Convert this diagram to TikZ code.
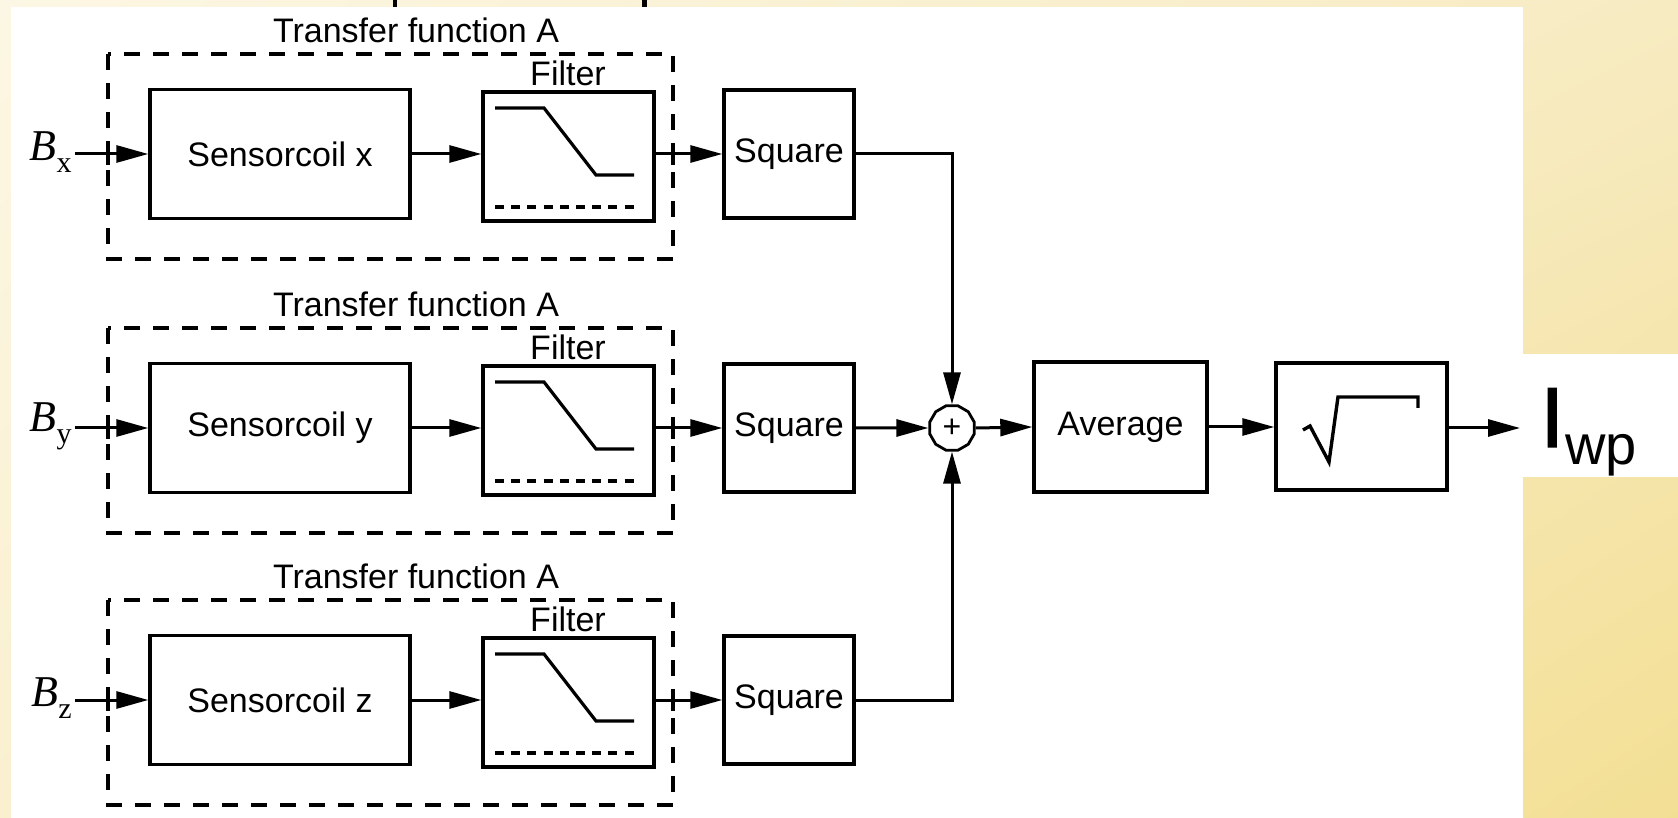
\documentclass[tikz,border=0pt]{standalone}
\usepackage{fontspec}
\setmainfont{Liberation Sans}
\newfontfamily\serifB{Liberation Serif}
\newfontfamily\heavyI[FakeBold=1.5]{Liberation Sans}
\usetikzlibrary{arrows.meta,shapes.geometric,shadings}
\definecolor{creamA}{HTML}{FCF7E4}
\definecolor{creamB}{HTML}{F7EBC2}
\definecolor{creamC}{HTML}{FAF0D0}
\definecolor{yelD}{HTML}{F3DF94}
\tikzset{
  x=0.5pt, y=-0.5pt,
  blk/.style={draw, line width=1.7pt, inner sep=0pt, font=\fontsize{17}{20}\selectfont},
  lbl/.style={inner sep=0pt, font=\fontsize{17}{20}\selectfont},
  arr/.style={line width=1.5pt, -{Triangle[length=16pt,width=8.5pt]}},
  tfbox/.style={line width=1.8pt, dash pattern=on 8pt off 6.5pt},
  bsym/.style={inner sep=0pt, font=\serifB\fontsize{22}{24}\selectfont}
}
\begin{document}
\begin{tikzpicture}
\useasboundingbox (0,0) rectangle (1678,818);
% background
\shade[upper left=creamA, upper right=creamB, lower left=creamC, lower right=yelD] (0,0) rectangle (1678,818);
\fill[white] (11,7) rectangle (1523,818);
\fill[white] (1523,354) rectangle (1678,477);
% remnants at top
\draw[line width=2pt] (395,0) -- (395,7);
\draw[line width=2.5pt] (644.5,0) -- (644.5,7);

\foreach \r/\yy/\s in {1/154/x, 2/428/y, 3/700/z}{
  % dashed transfer function box
  \draw[tfbox] (108,\yy-100) rectangle (673,\yy+105);
  \draw[line width=1.8pt] (108,\yy-11) -- (108,\yy+11);
  \draw[line width=1.8pt] (673,\yy-11) -- (673,\yy+11);
  \node[lbl] (tf\r) at (416,\yy-124) {Transfer function A};
  % input label
  \node[bsym, anchor=east] (b\r) at (72,\yy-2) {\itshape B\raisebox{-6pt}{\upshape\fontsize{15}{15}\selectfont \s}};
  % blocks
  \node[blk, minimum width=130pt, minimum height=64.5pt] (sc\r) at (280,\yy) {Sensorcoil \s};
  \node[blk, minimum width=85.5pt, minimum height=64.5pt] (fl\r) at (568.5,\yy+2.5) {};
  \node[lbl] (fll\r) at (568,\yy-81) {Filter};
  \node[blk, minimum width=65pt, minimum height=64pt] (sq\r) at (789,\yy) {Square};
  % filter curve
  \draw[line width=1.6pt] ([shift={(-73.5,-48.5)}]fl\r.center) -- ([shift={(-24.5,-48.5)}]fl\r.center)
      -- ([shift={(27.5,18.5)}]fl\r.center) -- ([shift={(65.5,18.5)}]fl\r.center);
  \draw[line width=1.7pt, dash pattern=on 4.5pt off 3.6pt] ([shift={(-73.5,50.5)}]fl\r.center) -- ([shift={(65.5,50.5)}]fl\r.center);
  % connectors
  \path (b\r.east) ++(3,2) coordinate (bs\r);
  \draw[arr] (bs\r) -- (sc\r.west);
  \draw[arr] (sc\r.east) -- (sc\r.east -| fl\r.west);
  \draw[arr] (sq\r.west -| fl\r.east) -- (sq\r.west);
}
\node[draw, regular polygon, regular polygon sides=12, minimum size=23pt, inner sep=0pt, line width=1.4pt,
      font=\fontsize{16}{16}\selectfont] (sum) at (952,428) {+};
\node[blk, minimum width=86.5pt, minimum height=65pt] (avg) at (1120.5,427) {Average};
\node[blk, minimum width=85.5pt, minimum height=63.5pt] (sqrt) at (1361.5,426.5) {};
\draw[line width=1.7pt, line join=miter] (1303,430) -- (1310,426) -- (1329,462) -- (1338,397) -- (1418,397) -- (1418,408);

\draw[arr] (sq1.east) -| (sum.north);
\draw[arr] (sq3.east) -| (sum.south);
\draw[arr] (sq2.east) -- (sum.west);
\draw[arr] (sum.east) -- (avg.west);
\draw[arr] (avg.east) -- (avg.east -| sqrt.west);
\coordinate (out) at (1520,428);
\draw[arr] (sqrt.east |- out) -- (out);
\node[anchor=base west, inner sep=0pt, font=\heavyI\fontsize{42.6}{44}\selectfont] (I) at (1540,447) {I};
\node[anchor=base west, inner sep=0pt, font=\fontsize{28}{30}\selectfont] (wp) at (1565,465) {wp};
\end{tikzpicture}
\end{document}
